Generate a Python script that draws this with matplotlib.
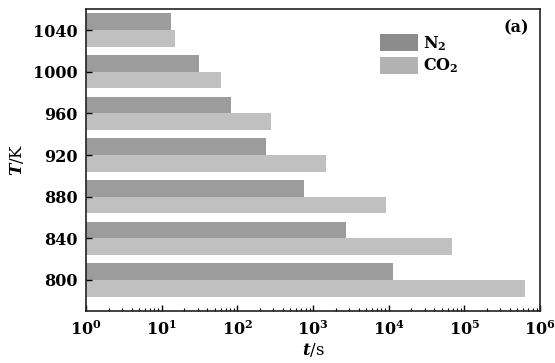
import numpy as np
import matplotlib
matplotlib.use("Agg")
import matplotlib.pyplot as plt
from matplotlib.patches import Patch
from matplotlib.ticker import LogLocator, FixedLocator, NullFormatter

plt.rcParams['font.family'] = 'DejaVu Serif'
plt.rcParams['font.weight'] = 'bold'
plt.rcParams['mathtext.fontset'] = 'custom'
plt.rcParams['mathtext.rm'] = 'DejaVu Serif:bold'
plt.rcParams['mathtext.bf'] = 'DejaVu Serif:bold'
plt.rcParams['mathtext.it'] = 'DejaVu Serif:italic:bold'
plt.rcParams['mathtext.default'] = 'rm'

# temperatures (K) and times (s) for both atmospheres
temps = [800, 840, 880, 920, 960, 1000, 1040]
t_n2 = [11300, 2750, 770, 237, 82, 30.5, 12.4]
t_co2 = [633000, 69500, 9200, 1490, 276, 59, 14.1]
series = ['N$_2$', 'CO$_2$']
colors = ['#9c9c9c', '#c0c0c0']
legend_colors = ['#8c8c8c', '#b2b2b2']

fig = plt.figure(figsize=(5.55, 3.63), dpi=100)
ax = fig.add_axes([86 / 555, 1 - 311 / 363, 454 / 555, 302 / 363])

h = 16
temps = np.array(temps)
ax.barh(temps, t_n2, height=h, align='edge', left=1, color=colors[0])
ax.barh(temps - h, t_co2, height=h, align='edge', left=1, color=colors[1])

ax.set_xscale('log')
ax.set_xlim(1, 1e6)
ax.set_ylim(770.2, 1060.2)
ax.set_yticks(temps)
ax.set_yticklabels([str(t) for t in temps])
ax.xaxis.set_major_locator(FixedLocator([10.0 ** k for k in range(7)]))
ax.set_xticklabels(['$10^{%d}$' % k for k in range(7)])
ax.xaxis.set_minor_locator(LogLocator(base=10, subs=np.arange(2, 10), numticks=20))
ax.xaxis.set_minor_formatter(NullFormatter())

ax.tick_params(axis='both', which='major', direction='in', length=4, width=1,
               labelsize=11.5, top=False, right=False)
ax.tick_params(axis='x', which='minor', direction='in', length=2, width=0.8, top=False)
ax.tick_params(axis='x', pad=7)
ax.tick_params(axis='y', pad=6)
for s in ax.spines.values():
    s.set_linewidth(1.2)
    s.set_color('#222222')

ax.set_xlabel('$\\it{t}$/s', fontsize=12, labelpad=1)
ax.set_ylabel('$\\it{T}$/K', fontsize=12, labelpad=5)

handles = [Patch(facecolor=c, label=l) for c, l in zip(legend_colors, series)]
ax.legend(handles=handles, loc='upper left', bbox_to_anchor=(294 / 454, 0.918),
          frameon=False, fontsize=11.5, handlelength=2.4, handleheight=1.3,
          handletextpad=0.3, labelspacing=0.25, borderaxespad=0, borderpad=0)
ax.text(0.975, 0.965, '(a)', transform=ax.transAxes, ha='right', va='top', fontsize=11.5)

fig.savefig('out.png', dpi=100)
